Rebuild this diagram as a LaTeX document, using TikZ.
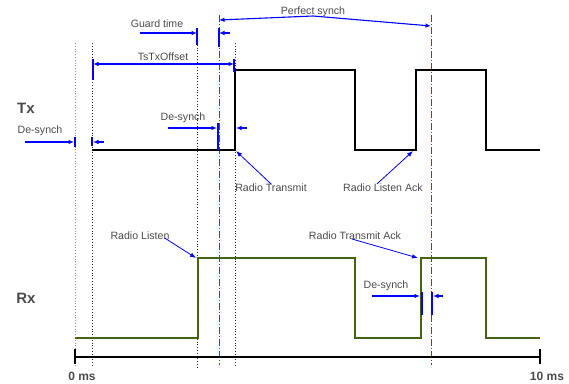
\documentclass[tikz,border=0pt]{standalone}
\usepackage{fontspec}
\setmainfont{Liberation Sans}
\usetikzlibrary{arrows.meta,positioning}
\definecolor{rxgreen}{HTML}{45640F}
\definecolor{labelgray}{HTML}{4A4A4A}

\begin{document}
\begin{tikzpicture}[x=1pt, y=-1pt,
    lbl/.style={font=\fontsize{10.6}{12}\selectfont, text=labelgray, inner sep=0pt},
    axislbl/.style={font=\bfseries\fontsize{12}{14}\selectfont, text=labelgray, inner sep=0pt},
    siglbl/.style={font=\bfseries\fontsize{15}{18}\selectfont, text=labelgray, inner sep=0pt},
    txwave/.style={line width=1.6pt, black},
    rxwave/.style={line width=1.6pt, rxgreen},
    guide/.style={dotted, line width=0.8pt, black!85},
    synchline/.style={red, line width=0.9pt, dash pattern=on 7pt off 2pt on 1pt off 2pt},
    dimarrow/.style={-{Latex[length=5.5pt,width=4.5pt]}, blue, line width=1.1pt},
    dimboth/.style={{Latex[length=5.5pt,width=4.5pt]}-{Latex[length=5.5pt,width=4.5pt]}, blue, line width=1.1pt},
    dimtick/.style={blue, line width=1.1pt},
    pointer/.style={-{Latex[length=6pt,width=4.5pt]}, blue, line width=0.8pt}
  ]
  \useasboundingbox (0,0) rectangle (569,383);

  % time guides
  \draw[guide, black!45] (75,43) -- (75,367);
  \draw[guide] (92,43) -- (92,367);
  \draw[guide] (197,28) -- (197,367);
  \draw[guide] (235,43) -- (235,367);
  \draw[synchline] (219,15) -- (219,365);
  \draw[synchline] (431,15) -- (431,365);

  % waveforms
  \draw[txwave] (92,150) -- (235,150) -- (235,70) -- (355,70) -- (355,150) -- (416,150)
    -- (416,70) -- (486,70) -- (486,150) -- (540,150);
  \draw[rxwave] (75,338) -- (198,338) -- (198,258) -- (355,258) -- (355,338) -- (421,338)
    -- (421,258) -- (486,258) -- (486,338) -- (540,338);
  \coordinate (txrise) at (236,151);
  \coordinate (txack) at (413,151);
  \coordinate (rxrise) at (196,258);
  \coordinate (rxack) at (418,258);

  % time axis
  \draw[line width=1.6pt] (75,357) -- (540,357);
  \draw[line width=2.4pt] (75,349) -- (75,364) (540,349) -- (540,364);
  \node[axislbl] (zero) at (82,376.5) {0 ms};
  \node[axislbl] (ten) at (547,376.5) {10 ms};

  \node[siglbl] (tx) at (26,108) {Tx};
  \node[siglbl] (rx) at (26,298) {Rx};

  % guard time
  \node[lbl] (guard) at (157,24) {Guard time};
  \coordinate (guardin) at (140,33);
  \coordinate (guardA) at (197,33);
  \coordinate (guardB) at (219,33);
  \coordinate (guardout) at (230,33);
  \draw[dimtick] (197,28) -- (197,45) (219,28) -- (219,47);
  \draw[dimarrow] (guardin) -- (guardA);
  \draw[dimarrow] (guardout) -- (guardB);

  % perfect synch
  \node[lbl] (perfect) at (313,12) {Perfect synch};
  \coordinate (synchA) at (219,20);
  \coordinate (synchB) at (431,26);
  \draw[dimboth] (synchA) -- (313,16) -- (synchB);

  % offset
  \node[lbl] (offset) at (163,57) {TsTxOffset};
  \coordinate (offA) at (93,64);
  \coordinate (offB) at (234,64);
  \draw[dimtick] (93,59) -- (93,80) (234,59) -- (234,72);
  \draw[dimboth] (offA) -- (offB);

  % de-synch, start
  \node[lbl] (desyncA) at (40,131) {De-synch};
  \coordinate (dsAin) at (25,142);
  \coordinate (dsA1) at (74,142);
  \coordinate (dsA2) at (93,142);
  \coordinate (dsAout) at (104,142);
  \draw[dimtick] (75,137) -- (75,147) (92,137) -- (92,146);
  \draw[dimarrow] (dsAin) -- (dsA1);
  \draw[dimarrow] (dsAout) -- (dsA2);

  % de-synch, transmit
  \node[lbl] (desyncB) at (183,118) {De-synch};
  \coordinate (dsBin) at (168,128);
  \coordinate (dsB1) at (217,128);
  \coordinate (dsB2) at (236,128);
  \coordinate (dsBout) at (247,128);
  \draw[dimtick] (218,123) -- (218,150);
  \draw[dimarrow] (dsBin) -- (dsB1);
  \draw[dimarrow] (dsBout) -- (dsB2);

  % de-synch, ack
  \node[lbl] (desyncC) at (386,286) {De-synch};
  \coordinate (dsCin) at (372,296);
  \coordinate (dsC1) at (420,296);
  \coordinate (dsC2) at (433,296);
  \coordinate (dsCout) at (443,296);
  \draw[dimtick] (422,292) -- (422,315) (432,292) -- (432,315);
  \draw[dimarrow] (dsCin) -- (dsC1);
  \draw[dimarrow] (dsCout) -- (dsC2);

  % radio events
  \node[lbl] (rtx) at (271,188) {Radio Transmit};
  \node[lbl] (rlack) at (383,188) {Radio Listen Ack};
  \node[lbl] (rlis) at (140,236) {Radio Listen};
  \node[lbl] (rtxack) at (355,236) {Radio Transmit Ack};
  \draw[pointer] (rtx.north) -- (txrise);
  \draw[pointer] ([xshift=-6pt]rlack.north) -- (txack);
  \draw[pointer] ([xshift=-5pt,yshift=-2pt]rlis.east) -- (rxrise);
  \draw[pointer] ([xshift=-3pt,yshift=-3pt]rtxack.center) -- (rxack);
\end{tikzpicture}
\end{document}
